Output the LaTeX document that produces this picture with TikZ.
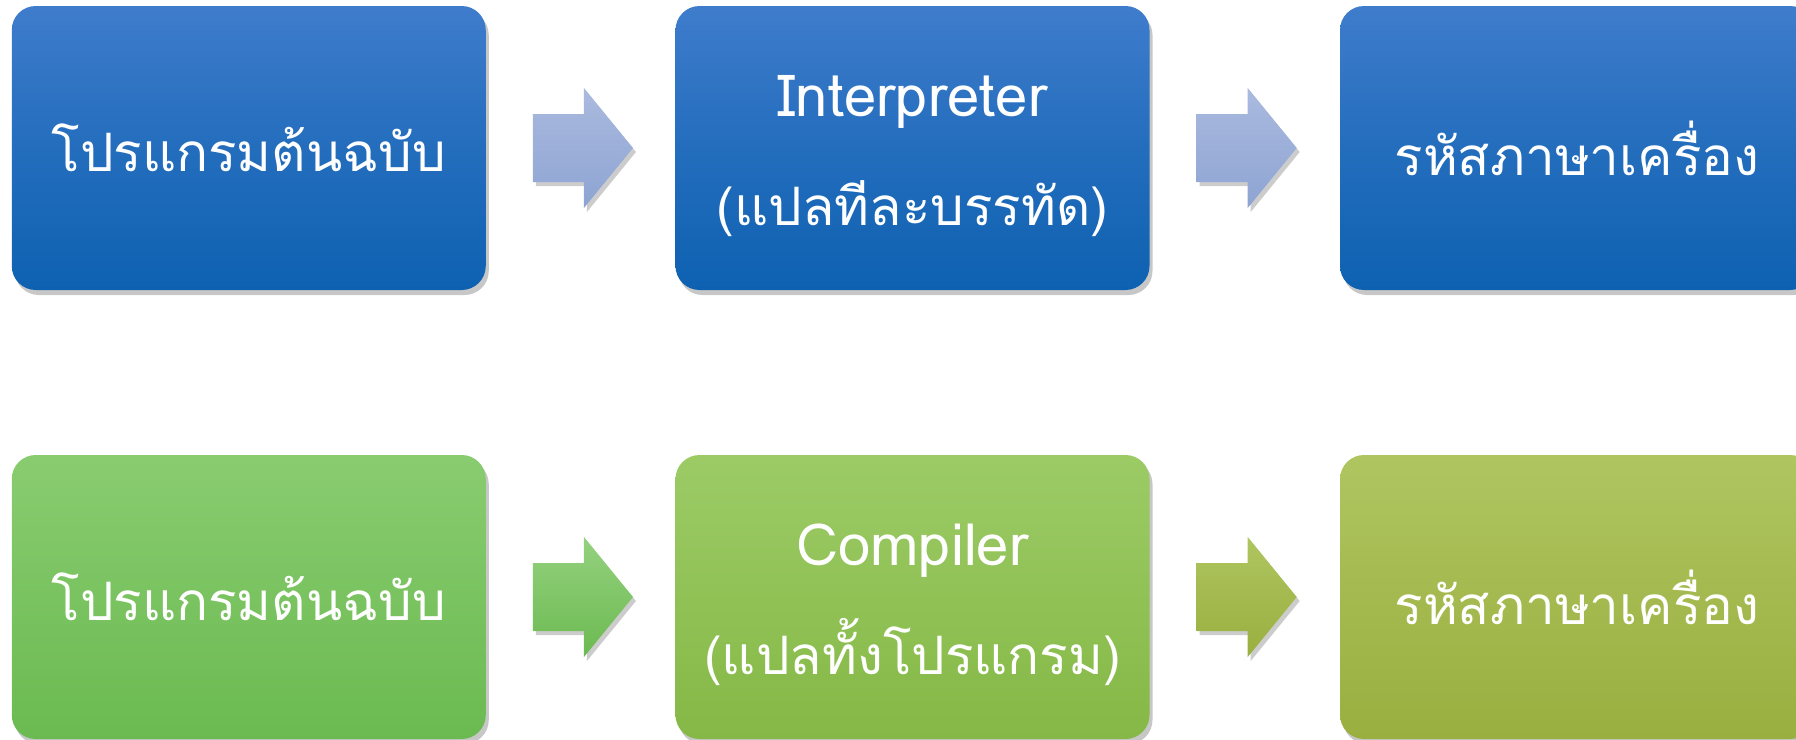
\documentclass[tikz,border=0pt]{standalone}
\usepackage{fontspec}
\newfontfamily\thaifont[Script=Thai]{Loma}
\usetikzlibrary{calc,shadows}

% box and arrow fills
\definecolor{blueTop}{HTML}{3F7CCC}
\definecolor{blueBot}{HTML}{0E61B1}
\definecolor{lavTop}{HTML}{ABBADF}
\definecolor{lavBot}{HTML}{8DA4D2}
\definecolor{gAtop}{HTML}{89CC70}
\definecolor{gAbot}{HTML}{6BBA51}
\definecolor{gBtop}{HTML}{9CCB66}
\definecolor{gBbot}{HTML}{85B846}
\definecolor{gCtop}{HTML}{AFC560}
\definecolor{gCbot}{HTML}{99AF3F}

% two-line caption: English name over a Thai gloss
\newcommand\twoline[2]{\raisebox{-9pt}{\begin{tabular}{@{}c@{}}%
  {\fontsize{58}{115}\selectfont #1}\\[-6pt]#2\end{tabular}}}

\tikzset{
  box/.style={rounded corners=24pt, minimum width=474pt, minimum height=284pt,
    inner sep=0pt, align=center, text=white,
    font=\thaifont\fontsize{53}{115}\selectfont,
    drop shadow={shadow xshift=3pt, shadow yshift=-5pt, opacity=0.22, fill=black}},
  bluebox/.style={box, top color=blueTop, bottom color=blueBot, middle color=blueBot!55!blueTop},
  boxGA/.style={box, top color=gAtop, bottom color=gAbot},
  boxGB/.style={box, top color=gBtop, bottom color=gBbot},
  boxGC/.style={box, top color=gCtop, bottom color=gCbot},
  blockarrow/.style={draw=none,
    drop shadow={shadow xshift=3pt, shadow yshift=-4pt, opacity=0.2, fill=black}},
  arrowLav/.style={blockarrow, top color=lavTop, bottom color=lavBot},
  arrowGA/.style={blockarrow, top color=gAtop!90!white, bottom color=gAbot},
  arrowGC/.style={blockarrow, top color=gCtop, bottom color=gCbot},
}

% block arrow placed to the right of a box node
\newcommand\blockarrowfrom[2]{%
  \path[#2] ($(#1.east)+(47,-34)$) -- ($(#1.east)+(98,-34)$) -- ($(#1.east)+(98,-60)$)
    -- ($(#1.east)+(147,0)$) -- ($(#1.east)+(98,60)$) -- ($(#1.east)+(98,34)$)
    -- ($(#1.east)+(47,34)$) -- cycle;}

\begin{document}
\begin{tikzpicture}[x=1pt, y=-1pt]
  \useasboundingbox (0,0) rectangle (1796,739);
  \clip (0,0) rectangle (1796,739);

  % interpreter row
  \node[bluebox] (src1) at (248.75,148) {โปรแกรมต้นฉบับ};
  \node[bluebox] (intp) at (912.5,148) {\twoline{Interpreter}{(แปลทีละบรรทัด)}};
  \node[bluebox] (mc1) at (1577,148) {รหัสภาษาเครื่อง};
  \blockarrowfrom{src1}{arrowLav}
  \blockarrowfrom{intp}{arrowLav}

  % compiler row
  \node[boxGA] (src2) at (248.75,597) {โปรแกรมต้นฉบับ};
  \node[boxGB] (comp) at (912.5,597) {\twoline{Compiler}{(แปลทั้งโปรแกรม)}};
  \node[boxGC] (mc2) at (1577,597) {รหัสภาษาเครื่อง};
  \blockarrowfrom{src2}{arrowGA}
  \blockarrowfrom{comp}{arrowGC}
\end{tikzpicture}
\end{document}
